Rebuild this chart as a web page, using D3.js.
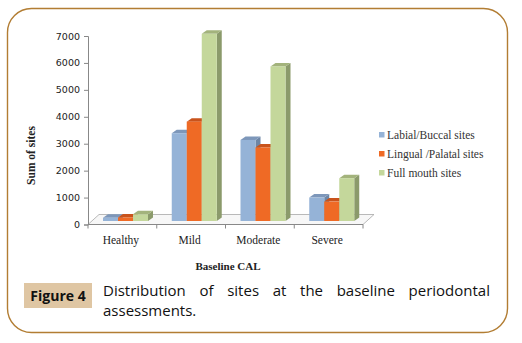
<!DOCTYPE html>
<html>
<head>
<meta charset="utf-8">
<script src="https://cdn.jsdelivr.net/npm/d3@7"></script>
<style>
  html, body { margin: 0; padding: 0; background: #fff; }
  svg { display: block; }
</style>
</head>
<body>
<svg id="chart" width="522" height="343"></svg>
<script>
// Baseline CAL categories and site counts per site group
const categories = ["Healthy", "Mild", "Moderate", "Severe"];
const seriesNames = ["Labial/Buccal sites", "Lingual /Palatal sites", "Full mouth sites"];
const labialBuccal = [120, 3260, 3010, 870];
const lingualPalatal = [130, 3690, 2730, 720];
const fullMouth = [250, 6950, 5740, 1590];
const yTicks = [0, 1000, 2000, 3000, 4000, 5000, 6000, 7000];

const seriesValues = [labialBuccal, lingualPalatal, fullMouth];
const faceColors = ["#95b3d7", "#ef6a25", "#c4d79b"];
const topColors = ["#7d97ba", "#c9531c", "#a3b37c"];
const sideColors = ["#6d86a6", "#a9461a", "#8b9a6b"];

const svg = d3.select("#chart");

// Rounded frame around the figure
svg.append("rect")
  .attr("x", 7.5).attr("y", 8.5).attr("width", 500).attr("height", 324)
  .attr("rx", 24).attr("ry", 24)
  .attr("fill", "#fff").attr("stroke", "#b27d33").attr("stroke-width", 1.4);

const x = d3.scaleBand().domain(categories).range([88, 363]);
const inner = d3.scaleBand().domain(seriesNames).range([15, 60]);
const y = d3.scaleLinear().domain([0, 7000]).range([224.5, 36]);

// 3D projection offsets: floor depth and bar depth
const floorDX = 11, floorDY = -10;
const barDX = 5, barDY = -3.5;
const barShift = -3.5; // bars stand part-way back on the floor

// Floor plane
const fx0 = x.range()[0], fx1 = x.range()[1], fy = y(0);
svg.append("path")
  .attr("d", `M${fx0},${fy}L${fx0 + floorDX},${fy + floorDY}L${fx1 + floorDX},${fy + floorDY}L${fx1},${fy}Z`)
  .attr("fill", "#f7f7f7").attr("stroke", "#a8a8a8").attr("stroke-width", 0.8);

// Y axis
const yAxis = d3.axisLeft(y).tickValues(yTicks).tickFormat(d3.format("d"))
  .tickSize(4).tickPadding(4);
const gy = svg.append("g").attr("transform", "translate(88,0)").call(yAxis);
gy.select(".domain").attr("stroke", "#888");
gy.selectAll(".tick line").attr("stroke", "#888");
gy.selectAll(".tick text")
  .attr("font-family", "DejaVu Sans, sans-serif").attr("font-size", 9.5)
  .attr("fill", "#222");

// X axis (category boundaries as ticks)
const gx = svg.append("g").attr("transform", `translate(0,${y(0)})`);
gx.append("line").attr("x1", fx0).attr("x2", fx1).attr("stroke", "#888");
const bounds = categories.map(c => x(c)).concat([fx1]);
gx.selectAll("line.b").data(bounds).join("line").attr("class", "b")
  .attr("x1", d => d).attr("x2", d => d).attr("y1", 0).attr("y2", 4)
  .attr("stroke", "#888");
gx.selectAll("text").data(categories).join("text")
  .attr("x", d => x(d) + x.bandwidth() / 2 - 1.5)
  .attr("y", 19)
  .attr("text-anchor", "middle")
  .attr("font-family", "Liberation Serif, serif").attr("font-size", 11.5)
  .attr("fill", "#222")
  .text(d => d);

// 3D bars: front, top and right side faces
const bars = svg.append("g");
categories.forEach((cat, ci) => {
  seriesNames.forEach((s, si) => {
    const v = seriesValues[si][ci];
    const x0 = x(cat) + inner(s);
    const w = inner.bandwidth();
    const yb = y(0) + barShift;
    const yt = y(v) + barShift;
    const g = bars.append("g");
    g.append("path")
      .attr("d", `M${x0 + w},${yt}L${x0 + w + barDX},${yt + barDY}L${x0 + w + barDX},${yb + barDY}L${x0 + w},${yb}Z`)
      .attr("fill", sideColors[si]);
    g.append("path")
      .attr("d", `M${x0},${yt}L${x0 + barDX},${yt + barDY}L${x0 + w + barDX},${yt + barDY}L${x0 + w},${yt}Z`)
      .attr("fill", topColors[si]);
    g.append("rect")
      .attr("x", x0).attr("y", yt).attr("width", w).attr("height", yb - yt)
      .attr("fill", faceColors[si]);
  });
});

// Axis titles
svg.append("text")
  .attr("transform", "translate(35,155.5) rotate(-90)")
  .attr("text-anchor", "middle")
  .attr("font-family", "Liberation Serif, serif").attr("font-weight", "bold")
  .attr("font-size", 11.5).attr("fill", "#222")
  .text("Sum of sites");
svg.append("text")
  .attr("x", 228).attr("y", 270)
  .attr("text-anchor", "middle")
  .attr("font-family", "Liberation Serif, serif").attr("font-weight", "bold")
  .attr("font-size", 11).attr("fill", "#222")
  .text("Baseline CAL");

// Legend
const legend = svg.append("g").attr("transform", "translate(379,135)");
seriesNames.forEach((s, i) => {
  const row = legend.append("g").attr("transform", `translate(0,${i * 19})`);
  row.append("rect").attr("x", 0).attr("y", -3).attr("width", 5.5).attr("height", 5.5)
    .attr("fill", faceColors[i]);
  row.append("text").attr("x", 8).attr("y", 3.5)
    .attr("font-family", "Liberation Serif, serif").attr("font-size", 11.5)
    .attr("fill", "#333").text(s);
});

// Caption
svg.append("rect")
  .attr("x", 24).attr("y", 283).attr("width", 68).attr("height", 25)
  .attr("fill", "#dfc6a3");
svg.append("text")
  .attr("x", 58).attr("y", 301).attr("text-anchor", "middle")
  .attr("font-family", "Open Sans, sans-serif").attr("font-weight", "bold")
  .attr("font-size", 14).attr("fill", "#111")
  .text("Figure 4");

// Justified first caption line
const line1 = "Distribution of sites at the baseline periodontal".split(" ");
const capFont = { family: "Open Sans, sans-serif", size: 15 };
const lineStart = 103, lineEnd = 490;
const words = svg.append("g").selectAll("text").data(line1).join("text")
  .attr("y", 296)
  .attr("font-family", capFont.family).attr("font-size", capFont.size)
  .attr("fill", "#111").text(d => d);
const widths = words.nodes().map(n => n.getComputedTextLength());
const gap = (lineEnd - lineStart - d3.sum(widths)) / (line1.length - 1);
let cx = lineStart;
words.attr("x", (d, i) => { const p = cx; cx += widths[i] + gap; return p; });
svg.append("text")
  .attr("x", lineStart).attr("y", 316)
  .attr("font-family", capFont.family).attr("font-size", capFont.size)
  .attr("fill", "#111").text("assessments.");
</script>
</body>
</html>
